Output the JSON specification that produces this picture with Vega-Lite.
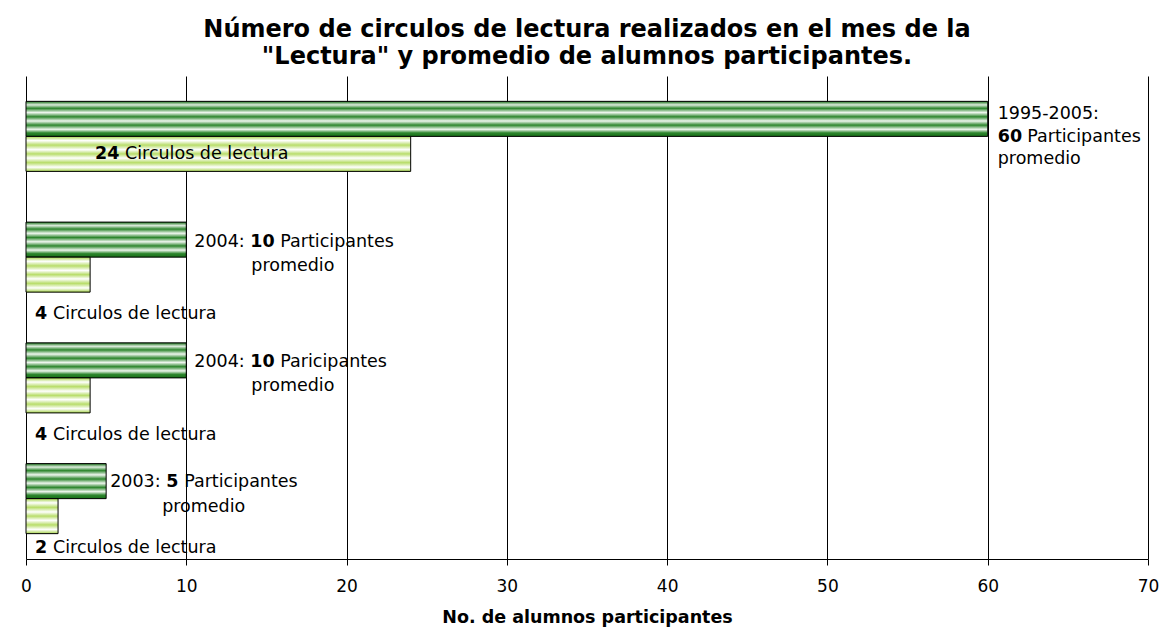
{
  "$schema": "https://vega.github.io/schema/vega-lite/v6.json",
  "width": 1122,
  "height": 483,
  "autosize": {"type": "none"},
  "padding": {"left": 26, "top": 76, "right": 14, "bottom": 70},
  "background": "white",
  "config": {
    "view": {"stroke": null},
    "font": "DejaVu Sans",
    "text": {"font": "DejaVu Sans", "fontSize": 17.5, "color": "black", "align": "left", "baseline": "alphabetic"}
  },
  "title": {
    "text": ["Número de circulos de lectura realizados en el mes de la", "\"Lectura\" y promedio de alumnos participantes."],
    "font": "DejaVu Sans",
    "fontWeight": "bold",
    "fontSize": 24,
    "lineHeight": 27,
    "color": "black",
    "anchor": "middle",
    "offset": 7
  },
  "data": {
    "values": [
      {"grupo": "A", "periodo": "1995-2005:", "serie": "Participantes", "valor": 60, "texto": "Participantes"},
      {"grupo": "A", "periodo": "1995-2005:", "serie": "Circulos", "valor": 24, "texto": "Circulos de lectura"},
      {"grupo": "B", "periodo": "2004:", "serie": "Participantes", "valor": 10, "texto": "Participantes"},
      {"grupo": "B", "periodo": "2004:", "serie": "Circulos", "valor": 4, "texto": "Circulos de lectura"},
      {"grupo": "C", "periodo": "2004:", "serie": "Participantes", "valor": 10, "texto": "Paricipantes"},
      {"grupo": "C", "periodo": "2004:", "serie": "Circulos", "valor": 4, "texto": "Circulos de lectura"},
      {"grupo": "D", "periodo": "2003:", "serie": "Participantes", "valor": 5, "texto": "Participantes"},
      {"grupo": "D", "periodo": "2003:", "serie": "Circulos", "valor": 2, "texto": "Circulos de lectura"}
    ]
  },
  "encoding": {
    "y": {"field": "grupo", "type": "nominal", "sort": ["A", "B", "C", "D"], "axis": null,
          "scale": {"paddingInner": 0.42, "paddingOuter": 0.21}},
    "yOffset": {"field": "serie", "type": "nominal", "sort": ["Participantes", "Circulos"],
                "scale": {"paddingInner": 0, "paddingOuter": 0}}
  },
  "layer": [
    {
      "transform": [{"filter": "datum.serie === 'Participantes'"}],
      "mark": {"type": "bar", "stroke": "black", "strokeWidth": 1,
        "fill": {"gradient": "linear", "x1": 0, "y1": 0, "x2": 0, "y2": 1, "stops": [
          {"offset": 0, "color": "#187018"},
          {"offset": 0.1, "color": "#dcecdc"},
          {"offset": 0.2, "color": "#2d862d"},
          {"offset": 0.32, "color": "#eef6ee"},
          {"offset": 0.44, "color": "#2d862d"},
          {"offset": 0.56, "color": "#eef6ee"},
          {"offset": 0.68, "color": "#2d862d"},
          {"offset": 0.8, "color": "#eef6ee"},
          {"offset": 0.9, "color": "#2d862d"},
          {"offset": 1, "color": "#187018"}
        ]}},
      "encoding": {
        "x": {"field": "valor", "type": "quantitative",
          "scale": {"domain": [0, 70], "nice": false, "zero": true},
          "axis": {
            "values": [0, 10, 20, 30, 40, 50, 60, 70],
            "grid": true, "gridColor": "black", "gridOpacity": 1, "gridWidth": 1,
            "domainColor": "black", "domainWidth": 1,
            "tickColor": "black", "tickSize": 6, "tickWidth": 1,
            "labelFont": "DejaVu Sans", "labelFontSize": 17, "labelColor": "black", "labelPadding": 13,
            "labelFlush": false, "labelOverlap": false,
            "title": "No. de alumnos participantes",
            "titleFont": "DejaVu Sans", "titleFontWeight": "bold", "titleFontSize": 17.5, "titleColor": "black",
            "titlePadding": 14
          }}
      }
    },
    {
      "transform": [{"filter": "datum.serie === 'Circulos'"}],
      "mark": {"type": "bar", "stroke": "black", "strokeWidth": 1,
        "fill": {"gradient": "linear", "x1": 0, "y1": 0, "x2": 0, "y2": 1, "stops": [
          {"offset": 0, "color": "#a6d44a"},
          {"offset": 0.12, "color": "#ffffff"},
          {"offset": 0.25, "color": "#b8dd6a"},
          {"offset": 0.38, "color": "#ffffff"},
          {"offset": 0.5, "color": "#b8dd6a"},
          {"offset": 0.62, "color": "#ffffff"},
          {"offset": 0.75, "color": "#b8dd6a"},
          {"offset": 0.88, "color": "#ffffff"},
          {"offset": 1, "color": "#a6d44a"}
        ]}},
      "encoding": {"x": {"field": "valor", "type": "quantitative"}}
    },
    {
      "transform": [{"filter": "datum.grupo === 'A' && datum.serie === 'Participantes'"}],
      "mark": {"type": "text", "dx": 10, "dy": 0.5},
      "encoding": {"x": {"field": "valor", "type": "quantitative"}, "text": {"field": "periodo"}}
    },
    {
      "transform": [{"filter": "datum.grupo === 'A' && datum.serie === 'Participantes'"}],
      "mark": {"type": "text", "dx": 10, "dy": 23.5, "fontWeight": "bold"},
      "encoding": {"x": {"field": "valor", "type": "quantitative"}, "text": {"field": "valor"}}
    },
    {
      "transform": [{"filter": "datum.grupo === 'A' && datum.serie === 'Participantes'"}],
      "mark": {"type": "text", "dx": 39.5, "dy": 23.5},
      "encoding": {"x": {"field": "valor", "type": "quantitative"}, "text": {"field": "texto"}}
    },
    {
      "transform": [{"filter": "datum.grupo === 'A' && datum.serie === 'Participantes'"}],
      "mark": {"type": "text", "dx": 10, "dy": 45.5, "text": "promedio"},
      "encoding": {"x": {"field": "valor", "type": "quantitative"}}
    },
    {
      "transform": [{"filter": "datum.grupo === 'A' && datum.serie === 'Circulos'"}],
      "mark": {"type": "text", "dx": 69, "dy": 5.5, "fontWeight": "bold"},
      "encoding": {"x": {"datum": 0, "type": "quantitative"}, "text": {"field": "valor"}}
    },
    {
      "transform": [{"filter": "datum.grupo === 'A' && datum.serie === 'Circulos'"}],
      "mark": {"type": "text", "dx": 99, "dy": 5.5},
      "encoding": {"x": {"datum": 0, "type": "quantitative"}, "text": {"field": "texto"}}
    },
    {
      "transform": [{"filter": "(datum.grupo === 'B' || datum.grupo === 'C') && datum.serie === 'Participantes'"}],
      "mark": {"type": "text", "dx": 8, "dy": 7},
      "encoding": {"x": {"field": "valor", "type": "quantitative"}, "text": {"field": "periodo"}}
    },
    {
      "transform": [{"filter": "(datum.grupo === 'B' || datum.grupo === 'C') && datum.serie === 'Participantes'"}],
      "mark": {"type": "text", "dx": 64, "dy": 7, "fontWeight": "bold"},
      "encoding": {"x": {"field": "valor", "type": "quantitative"}, "text": {"field": "valor"}}
    },
    {
      "transform": [{"filter": "(datum.grupo === 'B' || datum.grupo === 'C') && datum.serie === 'Participantes'"}],
      "mark": {"type": "text", "dx": 94, "dy": 7},
      "encoding": {"x": {"field": "valor", "type": "quantitative"}, "text": {"field": "texto"}}
    },
    {
      "transform": [{"filter": "(datum.grupo === 'B' || datum.grupo === 'C') && datum.serie === 'Participantes'"}],
      "mark": {"type": "text", "dx": 65, "dy": 31, "text": "promedio"},
      "encoding": {"x": {"field": "valor", "type": "quantitative"}}
    },
    {
      "transform": [{"filter": "(datum.grupo === 'B' || datum.grupo === 'C') && datum.serie === 'Circulos'"}],
      "mark": {"type": "text", "dx": 9, "dy": 44.5, "fontWeight": "bold"},
      "encoding": {"x": {"datum": 0, "type": "quantitative"}, "text": {"field": "valor"}}
    },
    {
      "transform": [{"filter": "(datum.grupo === 'B' || datum.grupo === 'C') && datum.serie === 'Circulos'"}],
      "mark": {"type": "text", "dx": 27, "dy": 44.5},
      "encoding": {"x": {"datum": 0, "type": "quantitative"}, "text": {"field": "texto"}}
    },
    {
      "transform": [{"filter": "datum.grupo === 'D' && datum.serie === 'Participantes'"}],
      "mark": {"type": "text", "dx": 4, "dy": 5.5},
      "encoding": {"x": {"field": "valor", "type": "quantitative"}, "text": {"field": "periodo"}}
    },
    {
      "transform": [{"filter": "datum.grupo === 'D' && datum.serie === 'Participantes'"}],
      "mark": {"type": "text", "dx": 60, "dy": 5.5, "fontWeight": "bold"},
      "encoding": {"x": {"field": "valor", "type": "quantitative"}, "text": {"field": "valor"}}
    },
    {
      "transform": [{"filter": "datum.grupo === 'D' && datum.serie === 'Participantes'"}],
      "mark": {"type": "text", "dx": 78, "dy": 5.5},
      "encoding": {"x": {"field": "valor", "type": "quantitative"}, "text": {"field": "texto"}}
    },
    {
      "transform": [{"filter": "datum.grupo === 'D' && datum.serie === 'Participantes'"}],
      "mark": {"type": "text", "dx": 56, "dy": 30.5, "text": "promedio"},
      "encoding": {"x": {"field": "valor", "type": "quantitative"}}
    },
    {
      "transform": [{"filter": "datum.grupo === 'D' && datum.serie === 'Circulos'"}],
      "mark": {"type": "text", "dx": 9, "dy": 36.5, "fontWeight": "bold"},
      "encoding": {"x": {"datum": 0, "type": "quantitative"}, "text": {"field": "valor"}}
    },
    {
      "transform": [{"filter": "datum.grupo === 'D' && datum.serie === 'Circulos'"}],
      "mark": {"type": "text", "dx": 27, "dy": 36.5},
      "encoding": {"x": {"datum": 0, "type": "quantitative"}, "text": {"field": "texto"}}
    }
  ]
}
